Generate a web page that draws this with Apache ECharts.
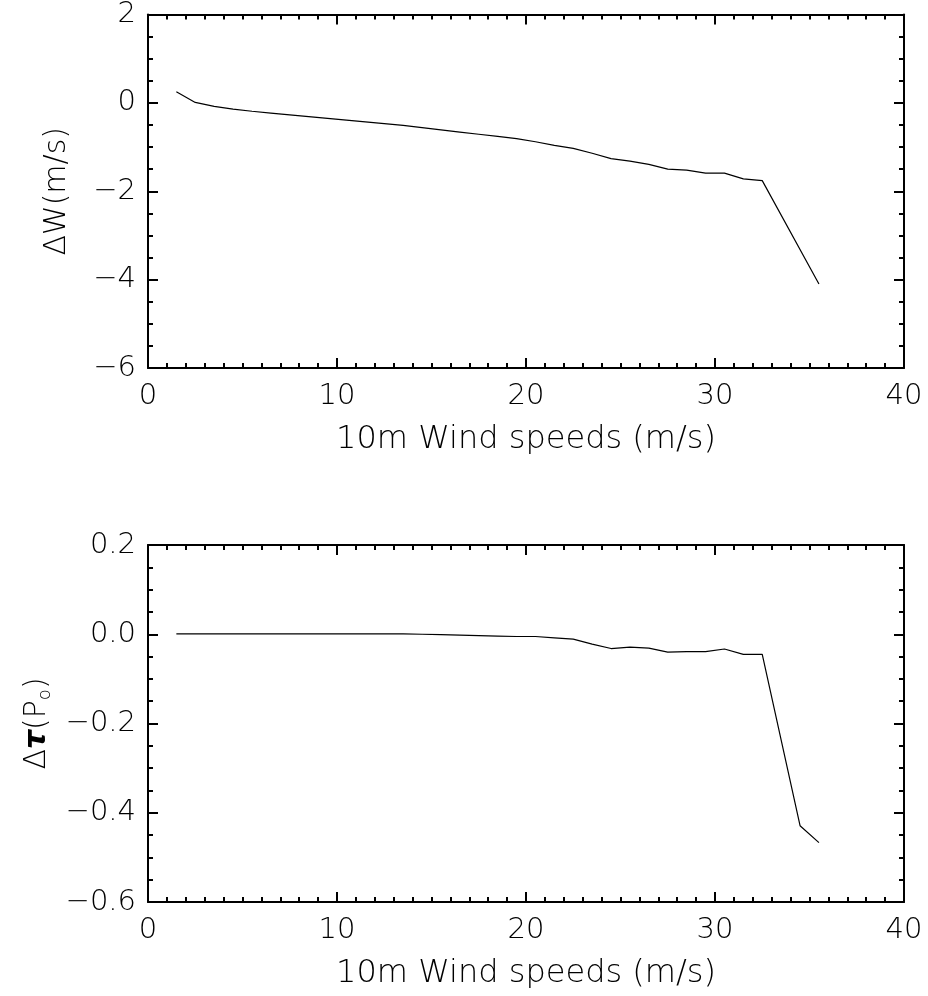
<!DOCTYPE html>
<html>
<head>
<meta charset="utf-8">
<script src="https://cdn.jsdelivr.net/npm/echarts@6/dist/echarts.min.js"></script>
<style>
  html, body { margin: 0; padding: 0; background: #fff; }
  #chart { width: 928px; height: 996px; }
</style>
</head>
<body>
<div id="chart"></div>
<script>
// top panel: wind speed change
var speedW = [1.5, 2.5, 3.5, 4.5, 5.5, 6.5, 7.5, 8.5, 9.5, 10.5, 11.5, 12.5, 13.5, 14.5, 15.5, 16.5,
  17.5, 18.5, 19.5, 20.5, 21.5, 22.5, 23.5, 24.5, 25.5, 26.5, 27.5, 28.5, 29.5, 30.5, 31.5, 32.5, 35.5];
var deltaW = [0.25, 0.01, -0.08, -0.14, -0.19, -0.23, -0.27, -0.31, -0.35, -0.39, -0.43, -0.47, -0.51, -0.56, -0.61, -0.66,
  -0.71, -0.76, -0.81, -0.88, -0.96, -1.03, -1.14, -1.26, -1.32, -1.39, -1.50, -1.52, -1.59, -1.59, -1.72, -1.76, -4.10];

// bottom panel: stress change
var speedT = [1.5, 2.5, 3.5, 4.5, 5.5, 6.5, 7.5, 8.5, 9.5, 10.5, 11.5, 12.5, 13.5, 14.5, 15.5, 16.5,
  17.5, 18.5, 19.5, 20.5, 21.5, 22.5, 23.5, 24.5, 25.5, 26.5, 27.5, 28.5, 29.5, 30.5, 31.5, 32.5, 34.5, 35.5];
var deltaT = [0.001, 0.001, 0.001, 0.001, 0.001, 0.001, 0.001, 0.001, 0.001, 0.001, 0.001, 0.001, 0.001, 0.0, -0.001, -0.002,
  -0.003, -0.004, -0.005, -0.005, -0.008, -0.011, -0.022, -0.032, -0.029, -0.031, -0.040, -0.039, -0.039, -0.033, -0.045, -0.045, -0.429, -0.467];

var xTitle = '10m Wind speeds (m/s)';
var font = 'DejaVu Sans';

function pairs(xs, ys) {
  return xs.map(function (x, i) { return [x, ys[i]]; });
}

function minus(s) { return s.replace('-', '\u2212'); }

var tickStyle = { show: true, inside: true, length: 10, lineStyle: { color: '#000', width: 2 } };
var minorStyle = { show: true, length: 5, lineStyle: { color: '#000', width: 2 } };
var lineStyle = { show: true, onZero: false, lineStyle: { color: '#000', width: 2 } };

function xAxis(grid, pos, labels) {
  return {
    type: 'value', gridIndex: grid, position: pos, min: 0, max: 40, interval: 10,
    axisLine: lineStyle, axisTick: tickStyle,
    minorTick: Object.assign({ splitNumber: 10 }, minorStyle),
    splitLine: { show: false },
    axisLabel: { show: labels, color: '#000', fontSize: 29, fontWeight: 200, fontFamily: font, margin: 14 },
    name: labels ? xTitle : '', nameLocation: 'middle', nameGap: 56,
    nameTextStyle: { color: '#000', fontSize: 32, fontWeight: 200, fontFamily: font }
  };
}

function yAxis(grid, pos, labels, min, max, step, digits, name) {
  return {
    type: 'value', gridIndex: grid, position: pos, min: min, max: max, interval: step,
    axisLine: lineStyle, axisTick: tickStyle,
    minorTick: Object.assign({ splitNumber: 4 }, minorStyle),
    splitLine: { show: false },
    axisLabel: {
      show: labels, color: '#000', fontSize: 29, fontWeight: 200, fontFamily: font, margin: 12,
      formatter: function (v) { return minus(v.toFixed(digits)); }
    },
    name: labels ? name : '', nameLocation: 'middle', nameGap: 76,
    nameTextStyle: {
      color: '#000', fontSize: 30, fontWeight: 200, fontFamily: font,
      rich: {
        t: { fontSize: 30, fontFamily: font, fontStyle: 'italic', fontWeight: 'bold', color: '#000' },
        s: { fontSize: 18, fontWeight: 200, fontFamily: font, color: '#000', padding: [16, 0, 0, 0] }
      }
    }
  };
}

var chart = echarts.init(document.getElementById('chart'));

chart.setOption({
  animation: false,
  backgroundColor: '#fff',
  grid: [
    { left: 148, right: 24, top: 11, height: 357 },
    { left: 148, right: 24, top: 545, height: 357 }
  ],
  xAxis: [
    xAxis(0, 'bottom', true),
    xAxis(0, 'top', false),
    xAxis(1, 'bottom', true),
    xAxis(1, 'top', false)
  ],
  yAxis: [
    yAxis(0, 'left', true, -6, 2, 2, 0, '\u0394W(m/s)'),
    yAxis(0, 'right', false, -6, 2, 2, 0, ''),
    yAxis(1, 'left', true, -0.6, 0.2, 0.2, 1, '\u0394{t|\u03c4}(P{s|o})'),
    yAxis(1, 'right', false, -0.6, 0.2, 0.2, 1, '')
  ],
  series: [
    {
      type: 'line', xAxisIndex: 0, yAxisIndex: 0, data: pairs(speedW, deltaW),
      showSymbol: false, lineStyle: { color: '#000', width: 1.2 }
    },
    {
      type: 'line', xAxisIndex: 2, yAxisIndex: 2, data: pairs(speedT, deltaT),
      showSymbol: false, lineStyle: { color: '#000', width: 1.2 }
    }
  ]
});
</script>
</body>
</html>
